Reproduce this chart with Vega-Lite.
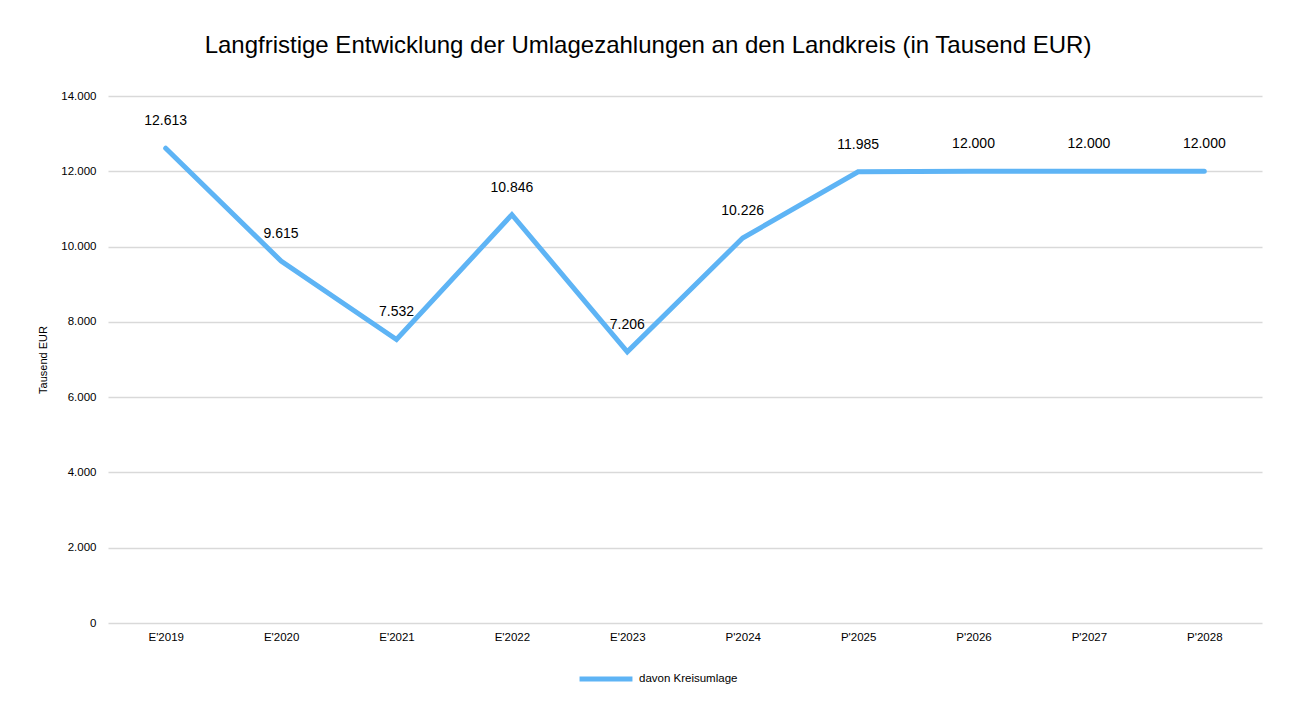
{
  "$schema": "https://vega.github.io/schema/vega-lite/v6.json",
  "width": 1154,
  "height": 527,
  "autosize": {"type": "none"},
  "padding": {"left": 108, "top": 96, "right": 30, "bottom": 84},
  "background": "white",
  "title": {
    "text": "Langfristige Entwicklung der Umlagezahlungen an den Landkreis (in Tausend EUR)",
    "font": "Liberation Sans",
    "fontSize": 24,
    "fontWeight": "normal",
    "color": "#000000",
    "anchor": "middle",
    "frame": "group",
    "dx": -37,
    "offset": 32
  },
  "config": {
    "locale": {"number": {"decimal": ",", "thousands": ".", "grouping": [3], "currency": ["", " €"]}},
    "font": "Liberation Sans",
    "view": {"stroke": null}
  },
  "data": {
    "values": [
      {"jahr": "E'2019", "wert": 12613, "serie": "davon Kreisumlage"},
      {"jahr": "E'2020", "wert": 9615, "serie": "davon Kreisumlage"},
      {"jahr": "E'2021", "wert": 7532, "serie": "davon Kreisumlage"},
      {"jahr": "E'2022", "wert": 10846, "serie": "davon Kreisumlage"},
      {"jahr": "E'2023", "wert": 7206, "serie": "davon Kreisumlage"},
      {"jahr": "P'2024", "wert": 10226, "serie": "davon Kreisumlage"},
      {"jahr": "P'2025", "wert": 11985, "serie": "davon Kreisumlage"},
      {"jahr": "P'2026", "wert": 12000, "serie": "davon Kreisumlage"},
      {"jahr": "P'2027", "wert": 12000, "serie": "davon Kreisumlage"},
      {"jahr": "P'2028", "wert": 12000, "serie": "davon Kreisumlage"}
    ]
  },
  "encoding": {
    "x": {
      "field": "jahr",
      "type": "ordinal",
      "sort": null,
      "scale": {"type": "point", "padding": 0.5},
      "axis": {
        "title": null,
        "labelAngle": 0,
        "domain": false,
        "ticks": false,
        "grid": false,
        "labelFontSize": 11.5,
        "labelColor": "#000000",
        "labelPadding": 8
      }
    },
    "y": {
      "field": "wert",
      "type": "quantitative",
      "scale": {"domain": [0, 14000], "nice": false},
      "axis": {
        "title": "Tausend EUR",
        "titleFontSize": 11,
        "titleFontWeight": "normal",
        "titleColor": "#000000",
        "titlePadding": 12,
        "values": [0, 2000, 4000, 6000, 8000, 10000, 12000, 14000],
        "format": ",d",
        "domain": false,
        "ticks": false,
        "grid": true,
        "gridColor": "#d9d9d9",
        "gridWidth": 1.5,
        "labelFontSize": 11.5,
        "labelColor": "#000000",
        "labelPadding": 12
      }
    }
  },
  "layer": [
    {
      "mark": {"type": "line", "strokeWidth": 5, "strokeCap": "round", "strokeJoin": "miter"},
      "encoding": {
        "color": {
          "field": "serie",
          "type": "nominal",
          "scale": {"range": ["#5eb4f5"]},
          "legend": {
            "title": null,
            "orient": "none",
            "legendX": 469,
            "legendY": 554,
            "symbolType": "stroke",
            "symbolStrokeWidth": 5,
            "symbolSize": 2800,
            "labelFontSize": 11.5,
            "labelColor": "#000000",
            "labelOffset": 4
          }
        }
      }
    },
    {
      "mark": {"type": "text", "dy": -27, "fontSize": 14, "color": "#000000"},
      "encoding": {
        "text": {"field": "wert", "type": "quantitative", "format": ",d"}
      }
    }
  ]
}
